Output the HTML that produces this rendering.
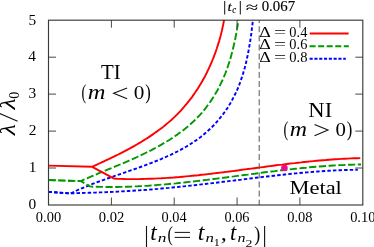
<!DOCTYPE html>
<html><head><meta charset="utf-8">
<style>
html,body{margin:0;padding:0;background:#fff;}
body{width:374px;height:247px;overflow:hidden;}
svg{display:block;font-family:"Liberation Serif",serif;}
.tk{font-size:14px;fill:#000;}
</style></head><body>
<svg width="374" height="247" viewBox="0 0 374 247">
<rect width="374" height="247" fill="#fff"/>
<g fill="none" stroke-width="1.9" stroke-linejoin="round">
<path d="M48.5 191.9 L70.4 193.5 L73.6 192.0 L76.7 190.5 L79.9 189.1 L83.0 187.8 L86.2 186.5 L89.4 185.2 L92.6 183.9 L95.9 182.7 L99.1 181.5 L102.4 180.3 L105.6 179.2 L108.9 178.0 L112.2 176.9 L115.4 175.7 L118.7 174.6 L122.0 173.5 L125.3 172.3 L128.6 171.2 L131.9 170.1 L135.2 168.9 L138.5 167.7 L141.8 166.5 L145.1 165.3 L148.4 164.1 L151.7 162.8 L155.0 161.5 L158.3 160.2 L161.5 158.9 L164.7 157.5 L167.9 156.0 L171.1 154.6 L174.3 153.0 L177.4 151.5 L180.5 149.9 L183.5 148.2 L186.5 146.5 L189.5 144.7 L192.4 142.8 L195.2 140.9 L198.0 138.9 L200.8 136.9 L203.4 134.7 L206.1 132.5 L208.6 130.2 L211.1 127.9 L213.5 125.5 L215.9 122.9 L218.1 120.4 L220.3 117.7 L222.5 115.0 L224.5 112.2 L226.5 109.4 L228.4 106.5 L230.2 103.5 L231.9 100.5 L233.5 97.4 L235.1 94.3 L236.6 91.2 L238.0 88.0 L239.3 84.7 L240.5 81.4 L241.6 78.1 L242.7 74.8 L243.7 71.4 L244.7 68.1 L245.6 64.7 L246.4 61.2 L247.1 57.8 L247.9 54.4 L248.5 50.9 L249.1 47.5 L249.7 44.0 L250.3 40.6 L250.8 37.2 L251.3 33.8 L251.7 30.4 L252.1 27.0 L252.5 23.6 L252.9 20.3" stroke="#0000ff" stroke-dasharray="3.5 2.1"/>
<path d="M48.5 191.9 L70.4 193.3 L74.0 193.2 L77.7 193.1 L81.4 193.0 L85.0 192.9 L88.7 192.8 L92.3 192.7 L96.0 192.6 L99.6 192.4 L103.3 192.3 L106.9 192.1 L110.6 192.0 L114.2 191.8 L117.9 191.6 L121.5 191.4 L125.2 191.2 L128.8 191.0 L132.5 190.8 L136.1 190.5 L139.7 190.3 L143.4 190.0 L147.0 189.8 L150.7 189.5 L154.3 189.2 L157.9 188.9 L161.6 188.5 L165.2 188.2 L168.8 187.9 L172.5 187.5 L176.1 187.2 L179.7 186.8 L183.3 186.4 L187.0 186.0 L190.6 185.6 L194.2 185.2 L197.9 184.8 L201.5 184.4 L205.1 184.0 L208.7 183.6 L212.4 183.1 L216.0 182.7 L219.6 182.3 L223.2 181.8 L226.9 181.4 L230.5 180.9 L234.1 180.5 L237.7 180.0 L241.4 179.6 L245.0 179.1 L248.6 178.7 L252.2 178.2 L255.9 177.8 L259.5 177.4 L263.1 176.9 L266.8 176.5 L270.4 176.1 L274.0 175.7 L277.7 175.3 L281.3 174.9 L284.9 174.5 L288.5 174.1 L292.2 173.7 L295.8 173.4 L299.5 173.0 L303.1 172.7 L306.7 172.4 L310.4 172.1 L314.0 171.8 L317.7 171.5 L321.3 171.3 L324.9 171.0 L328.6 170.8 L332.2 170.6 L335.9 170.4 L339.5 170.2 L343.2 170.1 L346.8 170.0 L350.5 169.9 L354.2 169.8 L357.8 169.7" stroke="#0000ff" stroke-dasharray="3.5 2.1"/>
<path d="M48.5 180.1 L80.9 181.1 L83.8 179.7 L86.5 178.6 L89.2 177.4 L91.9 176.2 L94.7 175.1 L97.4 173.9 L100.2 172.7 L103.0 171.6 L105.8 170.4 L108.7 169.2 L111.5 168.1 L114.3 166.9 L117.2 165.7 L120.0 164.5 L122.9 163.3 L125.7 162.1 L128.6 160.8 L131.4 159.6 L134.2 158.3 L137.1 157.0 L139.9 155.7 L142.7 154.4 L145.5 153.0 L148.2 151.7 L151.0 150.3 L153.7 148.8 L156.5 147.4 L159.2 145.9 L161.8 144.4 L164.5 142.8 L167.1 141.3 L169.7 139.7 L172.3 138.0 L174.8 136.3 L177.3 134.6 L179.7 132.8 L182.2 131.0 L184.5 129.2 L186.9 127.3 L189.2 125.3 L191.4 123.3 L193.6 121.3 L195.8 119.2 L197.9 117.0 L200.0 114.9 L202.0 112.6 L203.9 110.3 L205.8 107.9 L207.6 105.5 L209.4 103.1 L211.1 100.6 L212.8 98.0 L214.4 95.5 L216.0 92.8 L217.5 90.2 L218.9 87.5 L220.3 84.7 L221.6 82.0 L222.9 79.2 L224.1 76.3 L225.3 73.5 L226.4 70.6 L227.4 67.7 L228.4 64.8 L229.4 61.9 L230.3 58.9 L231.1 55.9 L231.9 53.0 L232.7 50.0 L233.4 47.0 L234.1 44.0 L234.8 41.0 L235.4 38.0 L236.0 35.0 L236.5 32.0 L237.0 29.0 L237.5 26.1 L238.0 23.1 L238.5 20.2" stroke="#009900" stroke-dasharray="7.2 2.55"/>
<path d="M48.5 180.1 L80.9 181.1 L89.8 186.4 L93.2 186.7 L96.7 186.8 L100.2 186.9 L103.6 186.9 L107.1 187.0 L110.5 187.0 L114.0 187.0 L117.4 187.0 L120.9 186.9 L124.3 186.8 L127.7 186.7 L131.2 186.6 L134.6 186.4 L138.1 186.3 L141.5 186.1 L144.9 185.9 L148.4 185.7 L151.8 185.4 L155.2 185.2 L158.7 184.9 L162.1 184.6 L165.5 184.4 L169.0 184.0 L172.4 183.7 L175.8 183.4 L179.3 183.0 L182.7 182.7 L186.1 182.3 L189.5 181.9 L193.0 181.5 L196.4 181.1 L199.8 180.7 L203.2 180.3 L206.7 179.9 L210.1 179.5 L213.5 179.0 L216.9 178.6 L220.3 178.2 L223.8 177.7 L227.2 177.3 L230.6 176.8 L234.0 176.4 L237.4 175.9 L240.9 175.5 L244.3 175.0 L247.7 174.6 L251.1 174.1 L254.6 173.7 L258.0 173.2 L261.4 172.8 L264.8 172.3 L268.2 171.9 L271.7 171.5 L275.1 171.1 L278.5 170.6 L281.9 170.2 L285.4 169.8 L288.8 169.5 L292.2 169.1 L295.7 168.7 L299.1 168.4 L302.5 168.0 L305.9 167.7 L309.4 167.3 L312.8 167.0 L316.2 166.7 L319.7 166.5 L323.1 166.2 L326.6 165.9 L330.0 165.7 L333.4 165.5 L336.9 165.3 L340.3 165.1 L343.8 165.0 L347.2 164.8 L350.7 164.7 L354.1 164.6 L357.6 164.5 L361.0 164.5" stroke="#009900" stroke-dasharray="7.2 2.55"/>
<path d="M48.5 165.6 L92.2 166.8 L94.6 165.6 L96.9 164.6 L99.3 163.5 L101.6 162.4 L104.0 161.3 L106.3 160.2 L108.7 159.1 L111.1 157.9 L113.4 156.8 L115.8 155.6 L118.2 154.5 L120.5 153.3 L122.9 152.1 L125.2 150.9 L127.6 149.6 L129.9 148.4 L132.2 147.1 L134.5 145.8 L136.8 144.5 L139.1 143.1 L141.4 141.8 L143.6 140.4 L145.9 139.0 L148.1 137.6 L150.3 136.1 L152.5 134.6 L154.6 133.1 L156.8 131.6 L158.9 130.1 L161.0 128.5 L163.1 126.9 L165.1 125.2 L167.1 123.6 L169.1 121.9 L171.1 120.2 L173.0 118.4 L174.9 116.6 L176.7 114.8 L178.6 112.9 L180.4 111.1 L182.1 109.1 L183.8 107.2 L185.5 105.2 L187.2 103.2 L188.8 101.2 L190.4 99.1 L192.0 97.1 L193.5 94.9 L195.0 92.8 L196.4 90.6 L197.9 88.5 L199.2 86.2 L200.6 84.0 L201.9 81.8 L203.2 79.5 L204.5 77.2 L205.7 74.9 L206.9 72.5 L208.0 70.2 L209.1 67.8 L210.2 65.4 L211.3 63.0 L212.3 60.5 L213.3 58.1 L214.2 55.6 L215.2 53.2 L216.0 50.7 L216.9 48.2 L217.7 45.6 L218.5 43.1 L219.3 40.6 L220.0 38.0 L220.7 35.5 L221.3 32.9 L222.0 30.3 L222.5 27.7 L223.1 25.1 L223.6 22.5 L224.1 19.9" stroke="#ff0000"/>
<path d="M92.2 166.8 L114.1 178.6 L117.2 178.8 L120.4 178.9 L123.5 179.0 L126.6 179.1 L129.8 179.1 L132.9 179.1 L136.0 179.1 L139.2 179.1 L142.3 179.0 L145.4 178.9 L148.6 178.8 L151.7 178.7 L154.8 178.6 L157.9 178.4 L161.0 178.3 L164.2 178.1 L167.3 177.9 L170.4 177.7 L173.5 177.5 L176.6 177.2 L179.7 177.0 L182.9 176.7 L186.0 176.4 L189.1 176.1 L192.2 175.8 L195.3 175.5 L198.4 175.2 L201.5 174.8 L204.6 174.5 L207.8 174.1 L210.9 173.8 L214.0 173.4 L217.1 173.0 L220.2 172.6 L223.3 172.3 L226.4 171.9 L229.5 171.5 L232.6 171.1 L235.7 170.7 L238.8 170.3 L241.9 169.8 L245.0 169.4 L248.1 169.0 L251.2 168.6 L254.4 168.2 L257.5 167.8 L260.6 167.4 L263.7 167.0 L266.8 166.5 L269.9 166.1 L273.0 165.7 L276.1 165.3 L279.2 164.9 L282.3 164.6 L285.4 164.2 L288.5 163.8 L291.7 163.4 L294.8 163.1 L297.9 162.7 L301.0 162.4 L304.1 162.0 L307.2 161.7 L310.3 161.4 L313.5 161.1 L316.6 160.8 L319.7 160.5 L322.8 160.2 L325.9 160.0 L329.1 159.7 L332.2 159.5 L335.3 159.3 L338.4 159.1 L341.5 158.9 L344.7 158.7 L347.8 158.6 L350.9 158.4 L354.1 158.3 L357.2 158.2 L360.3 158.1" stroke="#ff0000"/>
</g>
<path d="M259.2 20.2 V205.0" stroke="#555" stroke-width="1" stroke-dasharray="6 3.13" stroke-dashoffset="3.1" fill="none"/>
<circle cx="284.4" cy="168" r="3.3" fill="#e4108c"/>
<g stroke="#3a3a3a" stroke-width="1.15" fill="none">
<rect x="48.5" y="20.2" width="314.3" height="184.8"/>
</g>
<g stroke="#333" stroke-width="0.9" fill="none">
<path d="M111.4 205.0 V197.5 M111.4 20.2 V27.7"/>
<path d="M174.2 205.0 V197.5 M174.2 20.2 V27.7"/>
<path d="M237.1 205.0 V197.5 M237.1 20.2 V27.7"/>
<path d="M299.9 205.0 V197.5 M299.9 20.2 V27.7"/>
<path d="M48.5 168.0 H56.0 M362.8 168.0 H355.3"/>
<path d="M48.5 131.1 H56.0 M362.8 131.1 H355.3"/>
<path d="M48.5 94.1 H56.0 M362.8 94.1 H355.3"/>
<path d="M48.5 57.2 H56.0 M362.8 57.2 H355.3"/>
</g>
<g fill="none" stroke-width="1.9">
<path d="M309.7 33.5 H348.6" stroke="#ff0000"/>
<path d="M309.6 46.2 H348.8" stroke="#009900" stroke-dasharray="6 2.55"/>
<path d="M309.6 58.7 H345.8" stroke="#0000ff" stroke-dasharray="3.1 1.7"/>
</g>
<path d="M224.7 1 V14.5 M240.3 1 V14.5" stroke="#111" stroke-width="1" fill="none"/>
<path d="M146.5 226 V247 M264.6 226 V247 " stroke="#111" stroke-width="1.1" fill="none"/>
<path d="M174.7 232.4 H190 M174.7 237.4 H190" stroke="#111" stroke-width="1" fill="none"/>
<path d="M127.1 87.9 L113.6 93.3 L127.1 98.7 M314.5 124.4 L328 130.1 L314.5 135.8" stroke="#111" stroke-width="1.1" fill="none"/>
<g fill="#000" stroke="#000" stroke-width="0" opacity="0.999">
<text stroke-width="0.0" transform="translate(101.07,78.90) scale(1.041,1.013)" font-size="20">TI</text>
<text stroke-width="0.0" transform="translate(81.56,98.50) scale(0.711,1.000)" font-size="20">(</text>
<text stroke-width="0.0" transform="translate(87.63,98.50) scale(1.227,1.000)" font-size="20" font-style="italic">m</text>
<text stroke-width="0.0" transform="translate(133.84,98.50) scale(1.063,0.960)" font-size="20">0</text>
<text stroke-width="0.0" transform="translate(145.28,98.50) scale(0.828,1.000)" font-size="20">)</text>
<text stroke-width="0.0" transform="translate(308.35,117.00) scale(1.129,1.021)" font-size="20">NI</text>
<text stroke-width="0.0" transform="translate(283.56,135.70) scale(0.711,1.000)" font-size="20">(</text>
<text stroke-width="0.0" transform="translate(289.65,135.70) scale(1.196,1.000)" font-size="20" font-style="italic">m</text>
<text stroke-width="0.0" transform="translate(335.45,135.70) scale(1.040,0.960)" font-size="20">0</text>
<text stroke-width="0.0" transform="translate(346.68,135.70) scale(0.828,1.000)" font-size="20">)</text>
<text stroke-width="0.0" transform="translate(289.45,194.00) scale(1.124,0.946)" font-size="20">Metal</text>
<text stroke-width="0.15" transform="translate(227.42,11.20) scale(1.092,0.939)" font-size="14" font-style="italic">t</text>
<text stroke-width="0.15" transform="translate(232.13,12.90) scale(0.889,1.021)" font-size="10" font-style="italic">c</text>
<text stroke-width="0.1" transform="translate(245.75,11.50) scale(1.614,1.000)" font-size="14">≈</text>
<text stroke-width="0.15" transform="translate(261.63,11.30) scale(1.063,1.031)" font-size="14">0.067</text>
<text stroke-width="0.0" transform="translate(259.24,36.80) scale(1.285,0.999)" font-size="14">Δ</text>
<text stroke-width="0.0" transform="translate(273.89,36.80) scale(1.539,1.000)" font-size="14">=</text>
<text stroke-width="0.0" transform="translate(289.35,36.80) scale(1.027,1.021)" font-size="14">0.4</text>
<text stroke-width="0.0" transform="translate(259.24,49.20) scale(1.285,0.999)" font-size="14">Δ</text>
<text stroke-width="0.0" transform="translate(273.89,49.20) scale(1.539,1.000)" font-size="14">=</text>
<text stroke-width="0.0" transform="translate(289.35,49.20) scale(1.027,1.021)" font-size="14">0.6</text>
<text stroke-width="0.0" transform="translate(259.24,61.50) scale(1.285,0.999)" font-size="14">Δ</text>
<text stroke-width="0.0" transform="translate(273.89,61.50) scale(1.539,1.000)" font-size="14">=</text>
<text stroke-width="0.0" transform="translate(289.34,61.50) scale(1.041,1.021)" font-size="14">0.8</text>
<text stroke-width="0.0" transform="translate(150.27,239.90) scale(1.173,1.107)" font-size="20" font-style="italic">t</text>
<text stroke-width="0.0" transform="translate(157.86,242.20) scale(1.241,0.959)" font-size="14" font-style="italic">n</text>
<text stroke-width="0.0" transform="translate(167.50,240.50) scale(0.800,1.052)" font-size="20">(</text>
<text stroke-width="0.0" transform="translate(197.84,239.90) scale(1.209,1.107)" font-size="20" font-style="italic">t</text>
<text stroke-width="0.0" transform="translate(205.47,242.20) scale(1.208,0.959)" font-size="14" font-style="italic">n</text>
<text stroke-width="0.0" transform="translate(213.67,246.10) scale(1.211,1.121)" font-size="10">1</text>
<text stroke-width="0.0" transform="translate(220.74,239.90) scale(1.216,1.000)" font-size="20" font-style="italic">,</text>
<text stroke-width="0.0" transform="translate(229.99,239.90) scale(1.138,1.107)" font-size="20" font-style="italic">t</text>
<text stroke-width="0.0" transform="translate(237.60,242.20) scale(1.143,0.959)" font-size="14" font-style="italic">n</text>
<text stroke-width="0.0" transform="translate(245.55,246.50) scale(1.383,1.121)" font-size="10">2</text>
<text stroke-width="0.0" transform="translate(254.24,240.50) scale(0.904,1.052)" font-size="20">)</text>
<text stroke-width="0.0" transform="translate(35.85,222.00) scale(1.033,1.021)" font-size="14">0.00</text>
<text stroke-width="0.0" transform="translate(98.70,222.00) scale(1.042,1.021)" font-size="14">0.02</text>
<text stroke-width="0.0" transform="translate(161.57,222.00) scale(1.023,1.021)" font-size="14">0.04</text>
<text stroke-width="0.0" transform="translate(224.43,222.00) scale(1.023,1.021)" font-size="14">0.06</text>
<text stroke-width="0.0" transform="translate(287.29,222.00) scale(1.033,1.021)" font-size="14">0.08</text>
<text stroke-width="0.0" transform="translate(350.15,222.00) scale(1.033,1.021)" font-size="14">0.10</text>
<text stroke-width="0.0" transform="translate(28.58,209.30) scale(1.100,1.010)" font-size="14">0</text>
<text stroke-width="0.0" transform="translate(28.82,172.34) scale(1.100,1.010)" font-size="14">1</text>
<text stroke-width="0.0" transform="translate(28.82,135.38) scale(1.100,1.010)" font-size="14">2</text>
<text stroke-width="0.0" transform="translate(28.58,98.42) scale(1.100,1.010)" font-size="14">3</text>
<text stroke-width="0.0" transform="translate(28.34,61.46) scale(1.100,1.010)" font-size="14">4</text>
<text stroke-width="0.0" transform="translate(28.58,24.50) scale(1.100,1.034)" font-size="14">5</text>
<text stroke-width="0.0" transform="translate(14.8,0) rotate(-90) translate(-135.20,0.00) scale(1.280,1.030)" font-size="20" font-style="italic">λ</text>
<text stroke-width="0.0" transform="translate(14.8,0) rotate(-90) translate(-109.40,0.00) scale(1.280,1.030)" font-size="20" font-style="italic">λ</text>
<text stroke-width="0.0" transform="translate(14.8,0) rotate(-90) translate(-98.64,3.90) scale(1.012,1.063)" font-size="14">0</text>
</g>
<path d="M17.6 121.2 L-0.5 113.4" stroke="#111" stroke-width="1.2" fill="none"/>
</svg>
</body></html>
